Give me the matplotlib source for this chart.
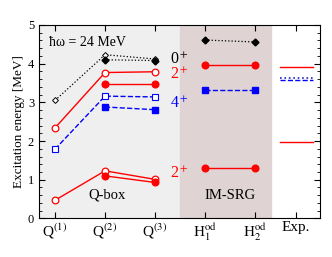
import matplotlib
matplotlib.use('Agg')
import matplotlib.pyplot as plt
from matplotlib.ticker import MultipleLocator

plt.rcParams['font.family'] = ['Liberation Serif', 'DejaVu Serif']
plt.rcParams['mathtext.fontset'] = 'stix'

# x positions of the columns
qbox_x = [1, 2, 3]
srg_x = [4, 5]
exp_x = [5.5, 6.15]
tick_labels = [r'Q$^{(1)}$', r'Q$^{(2)}$', r'Q$^{(3)}$',
               r'H$_1^{\rm od}$', r'H$_2^{\rm od}$', 'Exp.']

# Q-box, open symbols
q_open_0 = [3.05, 4.23, 4.12]
q_open_2b = [2.34, 3.77, 3.79]
q_open_4 = [1.79, 3.16, 3.14]
q_open_2a = [0.47, 1.23, 1.01]
# Q-box, filled symbols (from Q2)
q_fill_0 = [4.10, 4.08]
q_fill_2b = [3.48, 3.48]
q_fill_4 = [2.88, 2.81]
q_fill_2a = [1.10, 0.93]

# IM-SRG
srg_0 = [4.61, 4.56]
srg_2b = [3.96, 3.96]
srg_4 = [3.31, 3.31]
srg_2a = [1.30, 1.30]

# experiment
exp_0 = 3.63
exp_2b = 3.92
exp_4 = 3.57
exp_2a = 1.97

fig = plt.figure(figsize=(3.32, 2.57), dpi=100)
ax = fig.add_axes([0.1175, 0.15, 0.8465, 0.753])

ax.axvspan(0.68, 3.5, color='#efefef', zorder=0)
ax.axvspan(3.5, 5.31, color='#dfd3d3', zorder=0)

# Q-box
ax.plot(qbox_x, q_open_0, ':', color='k', lw=0.9, marker='D', ms=3, mfc='white', mec='k', mew=0.7)
ax.plot(qbox_x, q_open_2b, '-', color='red', lw=1, marker='o', ms=4.8, mfc='white', mec='red', mew=0.9)
ax.plot(qbox_x, q_open_4, '--', color='blue', lw=1, marker='s', ms=4.2, mfc='white', mec='blue', mew=0.8)
ax.plot(qbox_x, q_open_2a, '-', color='red', lw=1, marker='o', ms=4.8, mfc='white', mec='red', mew=0.9)
ax.plot(qbox_x[1:], q_fill_0, ':', color='k', lw=0.9, marker='D', ms=3.5)
ax.plot(qbox_x[1:], q_fill_2b, '-', color='red', lw=1, marker='o', ms=4.8)
ax.plot(qbox_x[1:], q_fill_4, '--', color='blue', lw=1, marker='s', ms=4.2)
ax.plot(qbox_x[1:], q_fill_2a, '-', color='red', lw=1, marker='o', ms=4.8)

# IM-SRG
ax.plot(srg_x, srg_0, ':', color='k', lw=0.9, marker='D', ms=3.5)
ax.plot(srg_x, srg_2b, '-', color='red', lw=1, marker='o', ms=4.8)
ax.plot(srg_x, srg_4, '--', color='blue', lw=1, marker='s', ms=4.2)
ax.plot(srg_x, srg_2a, '-', color='red', lw=1, marker='o', ms=4.8)

# Exp.
ax.plot(exp_x, [exp_2b] * 2, '-', color='red', lw=1)
ax.plot(exp_x, [exp_0] * 2, ':', color='#2020c0', lw=1.2)
ax.plot(exp_x, [exp_4] * 2, '--', color='blue', lw=1)
ax.plot(exp_x, [exp_2a] * 2, '-', color='red', lw=1)

ax.text(3.3, 4.1, r'0$^+$', color='k', fontsize=11.5, ha='left', va='center')
ax.text(3.3, 3.7, r'2$^+$', color='red', fontsize=11.5, ha='left', va='center')
ax.text(3.3, 2.95, r'4$^+$', color='blue', fontsize=11.5, ha='left', va='center')
ax.text(3.3, 1.15, r'2$^+$', color='red', fontsize=11.5, ha='left', va='center')
ax.text(2.05, 0.6, 'Q-box', fontsize=10.5, ha='center', va='center')
ax.text(4.5, 0.6, 'IM-SRG', fontsize=10.5, ha='center', va='center')
ax.text(0.88, 4.55, 'ħω = 24 MeV', fontsize=10, ha='left', va='center')

ax.set_xlim(0.68, 6.3)
ax.set_ylim(0, 5)
ax.set_xticks([1, 2, 3, 4, 5, 5.82])
ax.set_xticklabels(tick_labels, fontsize=11)
ax.yaxis.set_major_locator(MultipleLocator(1))
ax.yaxis.set_minor_locator(MultipleLocator(0.2))
ax.tick_params(axis='both', which='both', direction='in', top=True, right=True, labelsize=9)
ax.tick_params(axis='x', labelsize=11, pad=2)
ax.tick_params(which='major', length=4)
ax.tick_params(which='minor', length=2)
ax.set_ylabel('Excitation energy [MeV]', fontsize=9.5, labelpad=2)

fig.savefig('out.png', dpi=100)
